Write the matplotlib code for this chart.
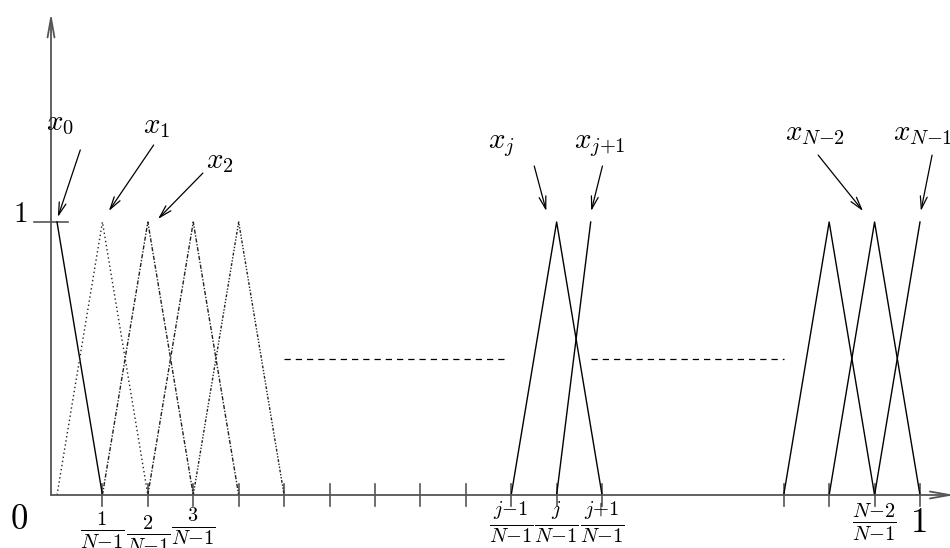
import matplotlib
matplotlib.use("Agg")
import matplotlib.pyplot as plt
import numpy as np

plt.rcParams['mathtext.fontset'] = 'cm'
plt.rcParams['font.family'] = ['DejaVu Serif']

# grid: N nodes on [0, 1]
N = 20
h = 1.0 / (N - 1)

# hat functions drawn as polylines: node indices of the corners, heights at them
hat_nodes = [
    [0, 1],           # x_0
    [0, 1, 2],        # x_1
    [1, 2, 3],        # x_2
    [2, 3, 4],
    [3, 4, 5],
    [10, 11, 12],     # x_j
    [11, 11.75],      # x_{j+1}
    [16, 17, 18],
    [17, 18, 19],     # x_{N-2}
    [18, 19],         # x_{N-1}
]
hat_heights = [
    [1, 0],
    [0, 1, 0],
    [0, 1, 0],
    [0, 1, 0],
    [0, 1, 0],
    [0, 1, 0],
    [0, 1],
    [0, 1, 0],
    [0, 1, 0],
    [0, 1],
]
hat_styles = [
    '-',
    (0, (1, 2)),
    (0, (3, 1.2, 1, 1.2)),
    (0, (3, 1.2, 1, 1.2)),
    (0, (2, 1.2, 1, 1.2, 1, 1.2)),
    '-', '-', '-', '-', '-',
]

tick_nodes = [1, 2, 3, 4, 5, 6, 7, 8, 9, 10, 11, 12, 16, 17, 18, 19]

# "..." gaps at half height
gap_starts = [5, 11.75]
gap_ends = [9.9, 16]

tick_labels = {
    1: r'$\frac{1}{N{-}1}$',
    2: r'$\frac{2}{N{-}1}$',
    3: r'$\frac{3}{N{-}1}$',
    10: r'$\frac{j{-}1}{N{-}1}$',
    11: r'$\frac{j}{N{-}1}$',
    12: r'$\frac{j{+}1}{N{-}1}$',
    18: r'$\frac{N{-}2}{N{-}1}$',
}
label_drop = {1: 0.128, 2: 0.145, 3: 0.114, 10: 0.099, 11: 0.099, 12: 0.099, 18: 0.099}

# arrow labels: (text, baseline pos, arrow start, arrow end) in data units
names = [r'$x_0$', r'$x_1$', r'$x_2$', r'$x_j$', r'$x_{j{+}1}$', r'$x_{N{-}2}$', r'$x_{N{-}1}$']
name_xy = [(-0.0127, 1.337), (0.0997, 1.326), (0.1727, 1.198), (0.4994, 1.271),
           (0.599, 1.271), (0.8436, 1.300), (0.9687, 1.300)]
arrow_from = [(0.027, 1.264), (0.112, 1.282), (0.169, 1.179), (0.553, 1.205),
              (0.632, 1.205), (0.882, 1.245), (1.014, 1.245)]
arrow_to = [(0.001, 1.018), (0.060, 1.040), (0.117, 1.011), (0.567, 1.040),
            (0.619, 1.040), (0.934, 1.040), (1.001, 1.040)]

fig = plt.figure(figsize=(9.5, 5.48), dpi=100)
ax = fig.add_axes([0, 0, 1, 1])
# 1 unit in x is 863 px, 1 unit in y is 273 px
ax.set_xlim(-57 / 863, 893 / 863)
ax.set_ylim(-53 / 273, 495 / 273)
ax.axis('off')

axis_col = '#555555'
y0x = -6 / 863

# coordinate axes
ax.annotate('', xy=(y0x, 1.766), xytext=(y0x, 0), annotation_clip=False,
            arrowprops=dict(arrowstyle='->,head_length=1.4,head_width=0.25',
                            color=axis_col, lw=1.3, shrinkA=0, shrinkB=0))
ax.annotate('', xy=(1.040, 0), xytext=(y0x, 0), annotation_clip=False,
            arrowprops=dict(arrowstyle='->,head_length=1.4,head_width=0.25',
                            color=axis_col, lw=1.3, shrinkA=0, shrinkB=0))

for k in tick_nodes:
    ax.plot([k * h, k * h], [-0.04, 0.04], color=axis_col, lw=1.2)
ax.plot([-0.027, 0.013], [1, 1], color=axis_col, lw=1.2)

for nodes, ys, ls in zip(hat_nodes, hat_heights, hat_styles):
    xs = np.array(nodes) * h
    ax.plot(xs, ys, color='black' if ls == '-' else '#222222',
            lw=1.0, linestyle=ls)

for a, b in zip(gap_starts, gap_ends):
    ax.plot([a * h, b * h], [0.5, 0.5], color='black', lw=0.9,
            linestyle=(0, (5, 4)))

for k, lab in tick_labels.items():
    ax.text(k * h, -label_drop[k], lab, ha='center', va='center', fontsize=21)

ax.text(-0.0446, -0.088, r'$0$', ha='center', va='center', fontsize=25)
ax.text(-0.0429, 1.03, r'$1$', ha='center', va='center', fontsize=21)
ax.text(0.9977, -0.099, r'$1$', ha='center', va='center', fontsize=25)

for t, xy, a, b in zip(names, name_xy, arrow_from, arrow_to):
    ax.text(xy[0], xy[1], t, ha='left', va='baseline', fontsize=21)
    ax.annotate('', xy=b, xytext=a,
                arrowprops=dict(arrowstyle='->,head_length=0.9,head_width=0.25',
                                color='black', lw=0.9, shrinkA=0, shrinkB=0))

fig.savefig('out.png', dpi=100)
